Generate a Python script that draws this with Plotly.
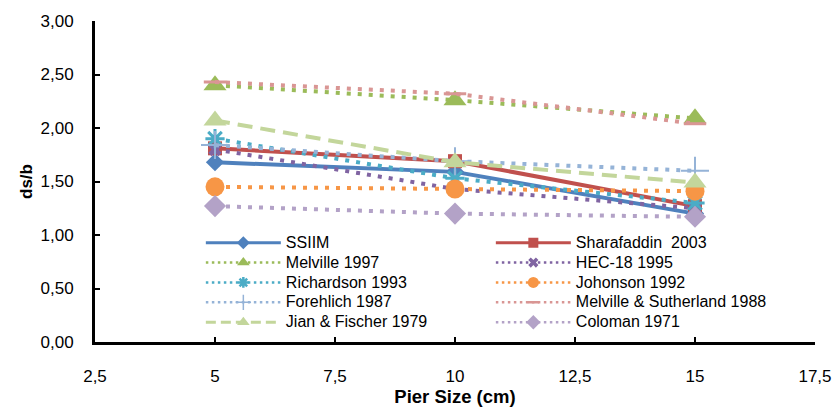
import plotly.graph_objects as go

x_vals = [5, 10, 15]
names = ["SSIIM", "Sharafaddin  2003", "Melville 1997", "HEC-18 1995", "Richardson 1993",
         "Johonson 1992", "Forehlich 1987", "Melville & Sutherland 1988", "Jian & Fischer 1979", "Coloman 1971"]
ssiim = [1.68, 1.59, 1.20]
sharafaddin = [1.81, 1.69, 1.27]
melville97 = [2.40, 2.26, 2.09]
hec18 = [1.80, 1.43, 1.25]
richardson = [1.90, 1.53, 1.30]
johonson = [1.45, 1.43, 1.41]
forehlich = [1.84, 1.69, 1.60]
melville_suth = [2.43, 2.32, 2.04]
jian = [2.07, 1.68, 1.49]
coloman = [1.27, 1.20, 1.17]

series = [ssiim, sharafaddin, melville97, hec18, richardson, johonson, forehlich, melville_suth, jian, coloman]
colors = ["#4F81BD", "#C0504D", "#9BBB59", "#8064A2", "#4BACC6", "#F79646", "#95B3D7", "#D99694", "#C3D69B", "#B3A2C7"]
kinds = ["solid", "solid", "dot", "dot", "dot", "dot", "dot", "dot", "dash", "dot"]
symbols = ["diamond", "square", "triangle-up", "x", "asterisk", "circle", "cross-thin", "line-ew", "triangle-up", "diamond"]
sizes = [14, 14, 20, 12, 16, 19, 20, 16, 20, 17]
leg_sizes = [10, 10, 11, 9, 9, 11, 11, 8, 11, 11]

main_style = {"solid": (4, "solid"), "dot": (4, "4px,7px"), "dash": (4, "15px,8px")}
leg_style = {"solid": (3, "solid"), "dot": (2.5, "2.5px,3.5px"), "dash": (3, "10px,5px")}

fig = go.Figure()
for nm, ys, c, k, s, sz in zip(names, series, colors, kinds, symbols, sizes):
    w, d = main_style[k]
    mline = dict(width=0)
    if s in ("asterisk", "cross-thin", "line-ew"):
        mline = dict(width=3 if s != "cross-thin" else 2, color=c)
    fig.add_trace(go.Scatter(
        x=x_vals, y=ys, name=nm, mode="lines+markers", showlegend=False,
        line=dict(color=c, dash=d, width=w),
        marker=dict(symbol=s, size=sz, color=c, line=mline),
    ))

# legend entries with smaller symbols, as in the reference legend
for nm, c, k, s, sz in zip(names, colors, kinds, symbols, leg_sizes):
    w, d = leg_style[k]
    mline = dict(width=0)
    if s in ("asterisk", "cross-thin", "line-ew"):
        mline = dict(width=2.5 if s != "cross-thin" else 1.5, color=c)
    fig.add_trace(go.Scatter(
        x=[None], y=[None], mode="lines+markers", showlegend=True,
        name="<span style='font-size:16px'>" + nm + "</span>",
        line=dict(color=c, dash=d, width=w),
        marker=dict(symbol=s, size=sz, color=c, line=mline),
    ))

tick_font = dict(family="Liberation Sans, Arial, sans-serif", size=17, color="#000000")

fig.update_layout(
    width=836, height=407,
    margin=dict(l=95, r=21, t=21, b=65),
    paper_bgcolor="white", plot_bgcolor="white",
    separators=",.",
    font=dict(family="Liberation Sans, Arial, sans-serif", size=14, color="#000000"),
    legend=dict(orientation="h", x=0.147, y=0.356, xanchor="left", yanchor="top",
                bgcolor="rgba(0,0,0,0)", entrywidth=200, entrywidthmode="pixels",
                font=dict(size=13, color="#000000"), tracegroupgap=0, itemwidth=75),
    xaxis=dict(range=[2.5, 17.5], dtick=2.5, tick0=2.5, showgrid=False, zeroline=False,
               showline=True, linecolor="black", linewidth=3, ticks="inside",
               ticklen=5, tickwidth=1.5, tickcolor="black", ticklabelstandoff=17,
               tickfont=tick_font, automargin=False,
               title=dict(text="<b>Pier Size (cm)</b>", standoff=9,
                          font=dict(family="Liberation Sans, Arial, sans-serif", size=18.5))),
    yaxis=dict(range=[0, 3], dtick=0.5, tickformat=".2f", showgrid=False, zeroline=False,
               showline=True, linecolor="black", linewidth=3, ticks="inside",
               ticklen=5, tickwidth=1.5, tickcolor="black", ticklabelstandoff=15,
               tickfont=tick_font, automargin=False,
               title=dict(text="<b>ds/b</b>", standoff=4,
                          font=dict(family="Liberation Sans, Arial, sans-serif", size=17))),
)

fig.write_html("out.html")
